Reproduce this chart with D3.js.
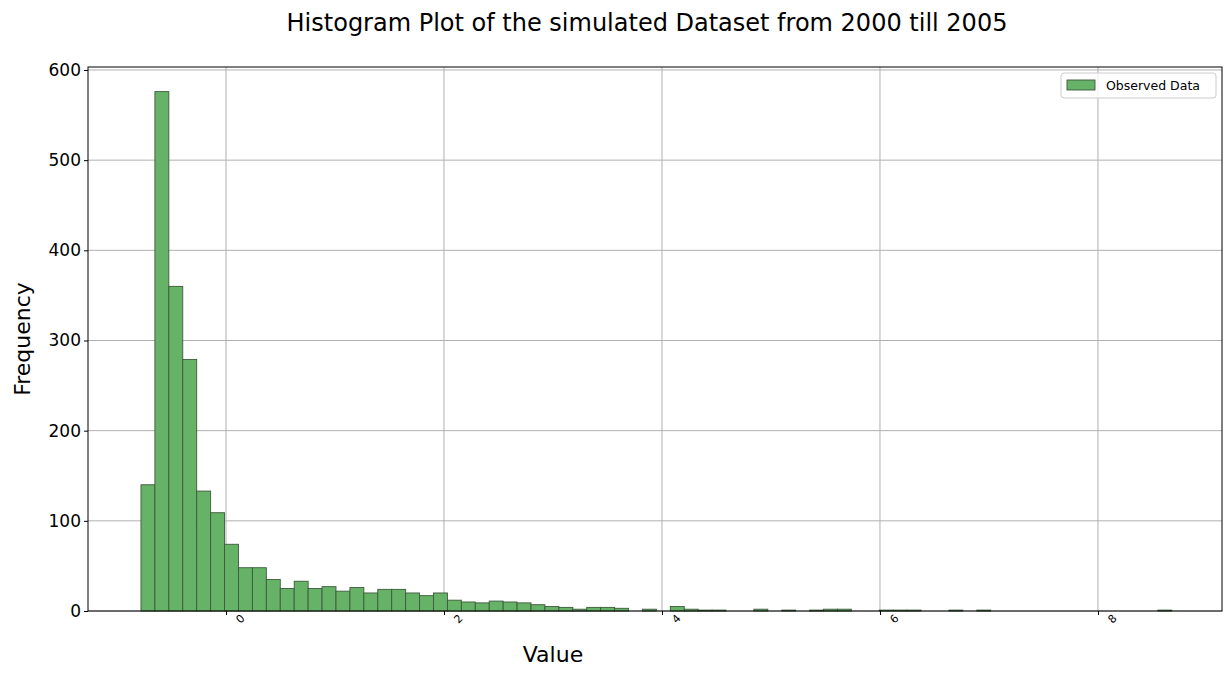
<!DOCTYPE html>
<html><head><meta charset="utf-8">
<script src="https://cdn.jsdelivr.net/npm/d3@7"></script>
<style>body{margin:0;background:#fff;font-family:"DejaVu Sans",sans-serif}</style>
</head><body><svg id="chart"></svg>
<script>
const binStart = -0.78;
const binWidth = 0.1278;
const counts = [140, 576, 360, 279, 133, 109, 74, 48, 48, 35, 25, 33, 25, 27, 22, 26, 20, 24, 24, 20,
  17, 20, 12, 10, 9, 11, 10, 9, 7, 5, 4, 2, 4, 4, 3, 0, 2, 0, 5, 2,
  1, 1, 0, 0, 2, 0, 1, 0, 1, 2, 2, 0, 0, 1, 1, 1, 0, 0, 1, 0,
  1, 0, 0, 0, 0, 0, 0, 0, 0, 0, 0, 0, 0, 1];
const xTicks = [0, 2, 4, 6, 8];
const yTicks = [0, 100, 200, 300, 400, 500, 600];

const SIZE = { width: 1232, height: 676 };
const MARGIN = { left: 88, right: 10, top: 67, bottom: 65 };
const WIDTH = SIZE.width - MARGIN.left - MARGIN.right;
const HEIGHT = SIZE.height - MARGIN.top - MARGIN.bottom;

const svg = d3.select("#chart").attr("width", SIZE.width).attr("height", SIZE.height);
const g = svg.append("g").attr("transform", `translate(${MARGIN.left},${MARGIN.top})`);

const x = d3.scaleLinear().domain([-1.266, 9.138]).range([0, WIDTH]);
const y = d3.scaleLinear().domain([0, 603.3]).range([HEIGHT, 0]);

// grid
g.selectAll(".gx").data(xTicks).join("line")
  .attr("x1", d => x(d)).attr("x2", d => x(d)).attr("y1", 0).attr("y2", HEIGHT)
  .attr("stroke", "#b0b0b0").attr("stroke-width", 1);
g.selectAll(".gy").data(yTicks).join("line")
  .attr("y1", d => y(d)).attr("y2", d => y(d)).attr("x1", 0).attr("x2", WIDTH)
  .attr("stroke", "#b0b0b0").attr("stroke-width", 1);

// bars
g.selectAll(".bar").data(counts).join("rect")
  .attr("x", (d, i) => x(binStart + i * binWidth))
  .attr("width", (d, i) => x(binStart + (i + 1) * binWidth) - x(binStart + i * binWidth))
  .attr("y", d => y(d))
  .attr("height", d => y(0) - y(d))
  .attr("fill", "#66b266")
  .attr("stroke", "#3d5a3d").attr("stroke-width", d => d > 0 ? 0.9 : 0);

// axes
const xAxis = g.append("g").attr("transform", `translate(0,${HEIGHT})`)
  .call(d3.axisBottom(x).tickValues(xTicks).tickSize(4).tickFormat(d3.format("d")));
xAxis.selectAll("text").attr("font-size", 11).attr("font-family", "DejaVu Sans")
  .attr("text-anchor", "end").attr("transform", "rotate(-45)").attr("dx", "0.7em").attr("dy", "1.1em");
const yAxis = g.append("g").call(d3.axisLeft(y).tickValues(yTicks).tickSize(4));
yAxis.selectAll("text").attr("font-size", 17).attr("font-family", "DejaVu Sans").attr("fill", "#000");
[xAxis, yAxis].forEach(a => { a.select(".domain").remove(); a.selectAll("line").attr("stroke", "#000"); });

g.append("rect").attr("width", WIDTH).attr("height", HEIGHT)
  .attr("fill", "none").attr("stroke", "#000").attr("stroke-width", 1);

// labels
svg.append("text").attr("x", 647).attr("y", 31).attr("text-anchor", "middle")
  .attr("font-size", 24).text("Histogram Plot of the simulated Dataset from 2000 till 2005");
svg.append("text").attr("x", MARGIN.left + x(3)).attr("y", 662).attr("text-anchor", "middle")
  .attr("font-size", 22).text("Value");
svg.append("text").attr("transform", `translate(30,${MARGIN.top + HEIGHT / 2}) rotate(-90)`)
  .attr("text-anchor", "middle").attr("font-size", 22).text("Frequency");

// legend
const lg = svg.append("g").attr("transform", "translate(1061,73)");
lg.append("rect").attr("width", 155).attr("height", 25).attr("rx", 3)
  .attr("fill", "#fff").attr("fill-opacity", 0.8).attr("stroke", "#ccc");
lg.append("rect").attr("x", 6).attr("y", 7).attr("width", 28).attr("height", 10)
  .attr("fill", "#66b266").attr("stroke", "#3d5a3d").attr("stroke-width", 0.9);
lg.append("text").attr("x", 45).attr("y", 17).attr("font-size", 12.5).text("Observed Data");
</script></body></html>
